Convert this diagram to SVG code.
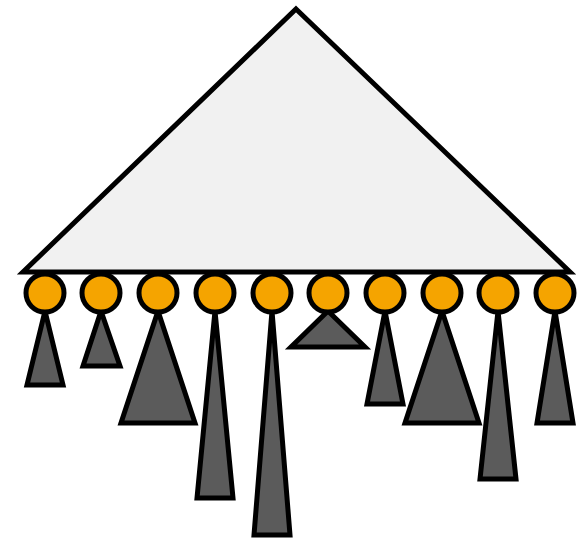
<svg xmlns="http://www.w3.org/2000/svg" width="585" height="540" viewBox="0 0 585 540">
<style>
.big{fill:#f1f1f1;stroke:#000;stroke-width:5}
.sub{fill:#5b5b5b;stroke:#000;stroke-width:5}
.nd{fill:#f5a400;stroke:#000;stroke-width:5}
</style>
<rect width="585" height="540" fill="#fff"/>
<g id="top-tree"><polygon class="big" points="296,9 570,272 23,272"/></g>
<g id="subtrees">
<polygon class="sub" points="45,311 63,385 27,385"/>
<polygon class="sub" points="101,311 120,366 83,366"/>
<polygon class="sub" points="158,311 195,423 121,423"/>
<polygon class="sub" points="215,311 233,498 197,498"/>
<polygon class="sub" points="272,311 290,535 254,535"/>
<polygon class="sub" points="328,311 365,347 291,347"/>
<polygon class="sub" points="385,311 403,404 367,404"/>
<polygon class="sub" points="442,311 479,423 405,423"/>
<polygon class="sub" points="498,311 516,479 480,479"/>
<polygon class="sub" points="555,311 573,423 537,423"/>
</g>
<g id="nodes">
<circle id="n1" class="nd" cx="45" cy="293" r="19"/>
<circle id="n2" class="nd" cx="101" cy="293" r="19"/>
<circle id="n3" class="nd" cx="158" cy="293" r="19"/>
<circle id="n4" class="nd" cx="215" cy="293" r="19"/>
<circle id="n5" class="nd" cx="272" cy="293" r="19"/>
<circle id="n6" class="nd" cx="328" cy="293" r="19"/>
<circle id="n7" class="nd" cx="385" cy="293" r="19"/>
<circle id="n8" class="nd" cx="442" cy="293" r="19"/>
<circle id="n9" class="nd" cx="498" cy="293" r="19"/>
<circle id="n10" class="nd" cx="555" cy="293" r="19"/>
</g>
</svg>
